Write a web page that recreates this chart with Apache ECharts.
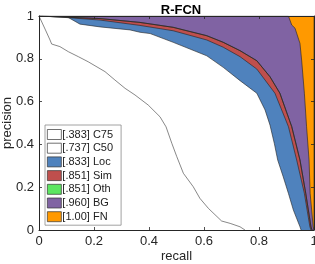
<!DOCTYPE html>
<html>
<head>
<meta charset="utf-8">
<script src="https://cdn.jsdelivr.net/npm/echarts@6/dist/echarts.min.js"></script>
<style>
html,body{margin:0;padding:0;background:#fff;}
#chart{width:315px;height:264px;}
</style>
</head>
<body>
<div id="chart"></div>
<script>
// ---- data ----
const titleText = 'R-FCN';
const xTickLabels = ['0', '0.2', '0.4', '0.6', '0.8', '1'];
const yTickLabels = ['0', '0.2', '0.4', '0.6', '0.8', '1'];
const seriesNames = ['[.383] C75', '[.737] C50', '[.833] Loc', '[.851] Sim', '[.851] Oth', '[.960] BG', '[1.00] FN'];
const seriesColors = ['#FFFFFF', '#FFFFFF', '#4F82BD', '#BF4F4D', '#5CE661', '#8063A3', '#FF9900'];

// [recall, precision]
const curveC75 = [[0,1],[0.022,0.939],[0.04,0.888],[0.046,0.869],[0.076,0.857],[0.107,0.833],[0.143,0.81],[0.179,0.786],[0.24,0.74],[0.276,0.701],[0.313,0.662],[0.349,0.631],[0.397,0.584],[0.44,0.529],[0.462,0.482],[0.483,0.405],[0.501,0.343],[0.525,0.265],[0.561,0.202],[0.585,0.148],[0.616,0.101],[0.664,0.042],[0.695,0.031],[0.731,0.015],[0.749,0]];
const curveC50 = [[0,1],[0.105,0.994],[0.149,0.962],[0.222,0.949],[0.331,0.935],[0.367,0.924],[0.404,0.918],[0.488,0.877],[0.61,0.814],[0.67,0.76],[0.731,0.698],[0.792,0.639],[0.822,0.561],[0.84,0.49],[0.856,0.403],[0.868,0.327],[0.888,0.249],[0.907,0.171],[0.925,0.093],[0.949,0.015],[0.953,0]];
const curveLoc = [[0,1],[0.076,0.995],[0.222,0.981],[0.367,0.956],[0.488,0.931],[0.61,0.888],[0.67,0.854],[0.731,0.81],[0.792,0.752],[0.858,0.639],[0.907,0.483],[0.937,0.327],[0.965,0.171],[0.985,0.015],[0.989,0]];
const curveSim = [[0,1],[0.222,0.988],[0.367,0.97],[0.488,0.947],[0.61,0.908],[0.67,0.877],[0.731,0.838],[0.792,0.791],[0.84,0.716],[0.876,0.639],[0.919,0.483],[0.949,0.327],[0.97,0.171],[0.989,0.015],[0.993,0]];
const curveOth = [[0,1],[0.222,0.988],[0.367,0.97],[0.488,0.947],[0.61,0.908],[0.67,0.877],[0.731,0.838],[0.792,0.791],[0.84,0.716],[0.876,0.639],[0.919,0.483],[0.949,0.327],[0.97,0.171],[0.989,0.015],[0.993,0]];
const curveBG = [[0,1],[0.907,1],[0.919,0.958],[0.931,0.943],[0.949,0.872],[0.955,0.794],[0.965,0.639],[0.973,0.483],[0.982,0.327],[0.986,0.171],[0.997,0.015],[1,0]];
const curveFN = [[0,1],[1,1],[1,0]];

const curves = [curveC75, curveC50, curveLoc, curveSim, curveOth, curveBG, curveFN];

// ---- chart ----
const chart = echarts.init(document.getElementById('chart'), null, {renderer: 'canvas'});
const font = "'Liberation Sans', Arial, Helvetica, sans-serif";
const axisColor = '#262626';

// draw order: FN first (bottom), C75 last (top)
const series = [];
for (let i = curves.length - 1; i >= 0; i--) {
  series.push({
    type: 'line',
    name: seriesNames[i],
    data: curves[i],
    color: seriesColors[i],
    showSymbol: false,
    symbol: 'none',
    smooth: false,
    animation: false,
    lineStyle: {color: i === 0 ? '#555' : '#222', width: i === 0 ? 0.7 : 0.6},
    areaStyle: {color: seriesColors[i], opacity: 1},
    itemStyle: {color: seriesColors[i]}
  });
}

function axisCommon(pos, showLabel, labels) {
  return {
    type: 'value', min: 0, max: 1, interval: 0.2, position: pos, z: 5,
    axisLine: {show: true, onZero: false, lineStyle: {color: axisColor, width: 1}},
    axisTick: {show: true, inside: true, length: 3, lineStyle: {color: axisColor, width: 0.8}},
    splitLine: {show: false},
    axisLabel: {
      show: showLabel, margin: 5, color: axisColor, fontFamily: font, fontSize: 13,
      formatter: function (v) { return labels[Math.round(v / 0.2)]; }
    }
  };
}

const xBottom = Object.assign(axisCommon('bottom', true, xTickLabels), {
  name: 'recall', nameLocation: 'middle', nameGap: 20, nameMoveOverlap: false,
  nameTextStyle: {color: axisColor, fontFamily: font, fontSize: 13}
});
const xTop = axisCommon('top', false, xTickLabels);
const yLeft = Object.assign(axisCommon('left', true, yTickLabels), {
  name: 'precision', nameLocation: 'middle', nameGap: 25, nameMoveOverlap: false,
  nameTextStyle: {color: axisColor, fontFamily: font, fontSize: 13}
});
const yRight = axisCommon('right', false, yTickLabels);

chart.setOption({
  animation: false,
  backgroundColor: '#fff',
  title: {
    text: titleText, left: 176, textAlign: 'center', top: -1,
    textStyle: {fontFamily: font, fontSize: 13, fontWeight: 'bold', color: '#000'}
  },
  grid: {left: 39, right: 1, top: 16, bottom: 34, containLabel: false, outerBoundsMode: 'none'},
  xAxis: [xBottom, xTop],
  yAxis: [yLeft, yRight],
  legend: {
    data: seriesNames.slice(),
    orient: 'vertical', left: 45, top: 125,
    icon: 'rect', itemWidth: 14, itemHeight: 10, itemGap: 2.7,
    padding: [4, 8, 3, 2],
    backgroundColor: '#fff', borderColor: '#8a8a8a', borderWidth: 0.8, borderRadius: 0,
    selectedMode: false,
    itemStyle: {borderColor: '#333', borderWidth: 0.7},
    textStyle: {fontFamily: font, fontSize: 11, color: '#222', padding: [0, 0, 0, -4]}
  },
  series: series
});
</script>
</body>
</html>
